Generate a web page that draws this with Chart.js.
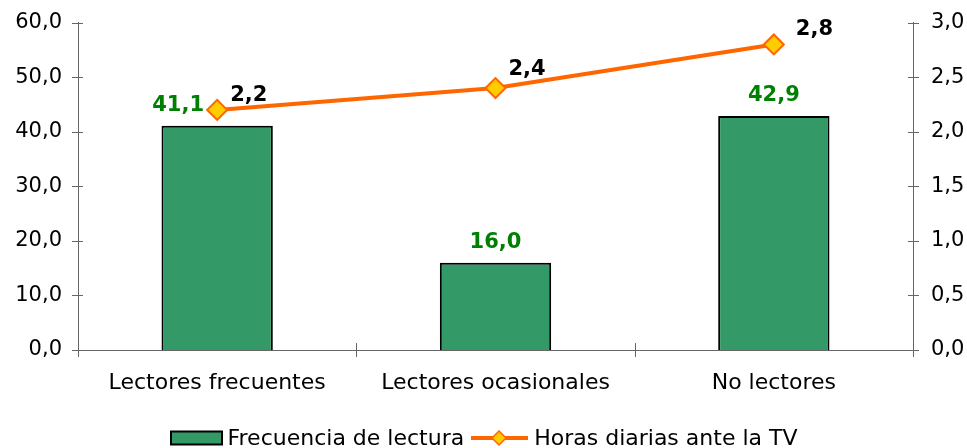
<!DOCTYPE html>
<html>
<head>
<meta charset="utf-8">
<script src="https://cdn.jsdelivr.net/npm/chart.js@4"></script>
<style>
  html, body { margin: 0; padding: 0; background: #fff; }
  #wrap { position: relative; width: 967px; height: 448px; overflow: hidden; }
  #legend {
    position: absolute; left: 0; right: 0; top: 425px;
    display: flex; justify-content: center; align-items: center;
    font: 22px "DejaVu Sans", Verdana, sans-serif; color: #000; white-space: nowrap;
  }
  #legend span { display: inline-flex; align-items: center; }
  #legend svg { margin-right: 4px; }
</style>
</head>
<body>
<div id="wrap">
  <canvas id="chart" width="967" height="448"></canvas>
  <div id="legend">
    <span><svg width="54" height="16"><rect x="1" y="1.5" width="51" height="13" fill="#339966" stroke="#000" stroke-width="2"/></svg>Frecuencia de lectura</span>
    <span style="margin-left:6px"><svg width="60" height="22"><line x1="1" y1="11" x2="58" y2="11" stroke="#FF6600" stroke-width="4"/><polygon points="29,4 36,11 29,18 22,11" fill="#FFCC00" stroke="#FF6600" stroke-width="1.5"/></svg>Horas diarias ante la TV</span>
  </div>
</div>
<script>
  var categorias = ['Lectores frecuentes', 'Lectores ocasionales', 'No lectores'];
  var frecuencia = [41.1, 16.0, 42.9];
  var horasTV = [2.2, 2.4, 2.8];
  var ticksIzq = [0, 10, 20, 30, 40, 50, 60];
  var ticksDer = [0, 0.5, 1, 1.5, 2, 2.5, 3];

  // desplazamiento de las etiquetas (px)
  var despBarras = [-39, 0, 0];
  var despLinea = [[13, -14], [13, -19], [22, -15]];

  var fuente = '"DejaVu Sans", Verdana, sans-serif';
  var colorEje = '#666666';

  function coma(v) {
    return v.toFixed(1).replace('.', ',');
  }

  // marcas de graduación que cruzan los ejes
  var marcasEjes = {
    id: 'marcasEjes',
    afterDraw: function (chart) {
      var ctx = chart.ctx, area = chart.chartArea;
      var yl = chart.scales.y, yr = chart.scales.y2;
      ctx.save();
      ctx.strokeStyle = colorEje;
      ctx.lineWidth = 1;
      ctx.beginPath();
      ticksIzq.forEach(function (v) {
        var py = Math.round(yl.getPixelForValue(v)) + 0.5;
        ctx.moveTo(area.left - 6, py);
        ctx.lineTo(area.left + 5, py);
      });
      ticksDer.forEach(function (v) {
        var py = Math.round(yr.getPixelForValue(v)) + 0.5;
        ctx.moveTo(area.right - 5, py);
        ctx.lineTo(area.right + 6, py);
      });
      var paso = (area.right - area.left) / categorias.length;
      for (var i = 0; i <= categorias.length; i++) {
        var px = Math.round(area.left + i * paso) + 0.5;
        ctx.moveTo(px, area.bottom - 7);
        ctx.lineTo(px, area.bottom + 7);
      }
      ctx.stroke();
      ctx.restore();
    }
  };

  var etiquetas = {
    id: 'etiquetas',
    afterDatasetsDraw: function (chart) {
      var ctx = chart.ctx;
      var barras = chart.getDatasetMeta(1).data;
      var puntos = chart.getDatasetMeta(0).data;
      ctx.save();
      ctx.font = 'bold 21px ' + fuente;
      ctx.textBaseline = 'middle';
      ctx.textAlign = 'center';
      ctx.fillStyle = '#008000';
      barras.forEach(function (bar, i) {
        ctx.fillText(coma(frecuencia[i]), bar.x + despBarras[i], bar.y - 20);
      });
      ctx.textAlign = 'left';
      ctx.fillStyle = '#000000';
      puntos.forEach(function (pt, i) {
        ctx.fillText(coma(horasTV[i]), pt.x + despLinea[i][0], pt.y + despLinea[i][1]);
      });
      ctx.restore();
    }
  };

  var ctx = document.getElementById('chart').getContext('2d');
  new Chart(ctx, {
    data: {
      labels: categorias,
      datasets: [
        {
          type: 'line',
          label: 'Horas diarias ante la TV',
          data: horasTV,
          yAxisID: 'y2',
          borderColor: '#FF6600',
          borderWidth: 4,
          pointStyle: 'rectRot',
          pointRadius: 10,
          pointBorderWidth: 2,
          pointBackgroundColor: '#FFCC00',
          pointBorderColor: '#FF6600',
          tension: 0,
          order: 0
        },
        {
          type: 'bar',
          label: 'Frecuencia de lectura',
          data: frecuencia,
          yAxisID: 'y',
          backgroundColor: '#339966',
          borderColor: '#000000',
          borderWidth: 2,
          barPercentage: 0.4,
          categoryPercentage: 1,
          order: 1
        }
      ]
    },
    options: {
      responsive: false,
      animation: false,
      layout: { padding: { top: 22, left: 0, right: 0, bottom: 0 } },
      plugins: {
        legend: { display: false },
        tooltip: { enabled: false }
      },
      scales: {
        x: {
          grid: { display: false },
          border: { display: true, color: colorEje, width: 1 },
          ticks: { color: '#000', font: { family: fuente, size: 22 }, padding: 12 },
          afterFit: function (s) { s.height = 98; }
        },
        y: {
          position: 'left',
          min: 0, max: 60,
          afterBuildTicks: function (s) { s.ticks = ticksIzq.map(function (v) { return { value: v }; }); },
          grid: { display: false },
          border: { display: true, color: colorEje, width: 1 },
          ticks: { color: '#000', font: { family: fuente, size: 21 }, padding: 8, callback: function (v) { return coma(v); } },
          afterFit: function (s) { s.width = 78; }
        },
        y2: {
          position: 'right',
          min: 0, max: 3,
          afterBuildTicks: function (s) { s.ticks = ticksDer.map(function (v) { return { value: v }; }); },
          grid: { display: false },
          border: { display: true, color: colorEje, width: 1 },
          ticks: { color: '#000', font: { family: fuente, size: 21 }, padding: 10, callback: function (v) { return coma(v); } },
          afterFit: function (s) { s.width = 54; }
        }
      }
    },
    plugins: [marcasEjes, etiquetas]
  });
</script>
</body>
</html>
